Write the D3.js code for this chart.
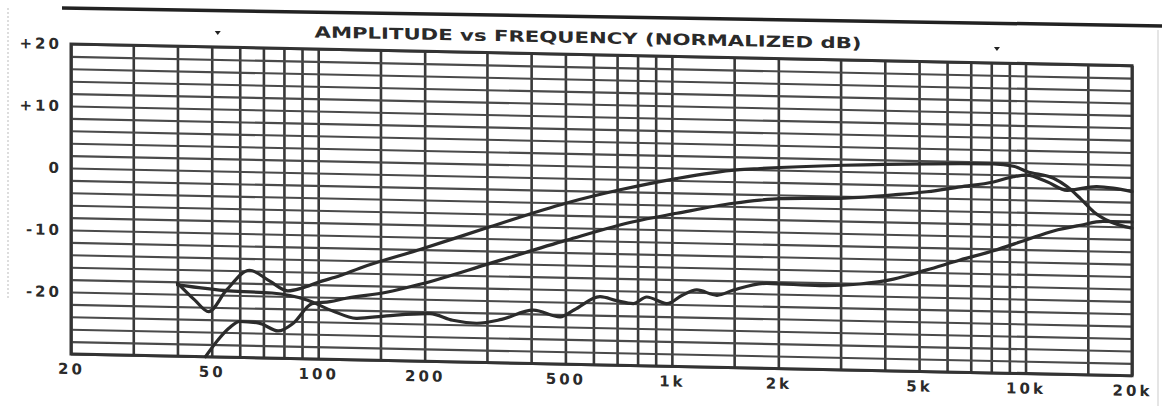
<!DOCTYPE html>
<html>
<head>
<meta charset="utf-8">
<script src="https://cdn.jsdelivr.net/npm/d3@7"></script>
<style>
  html, body { margin: 0; padding: 0; background: #fff; }
  svg { display: block; }
</style>
</head>
<body>
<svg id="chart" width="1162" height="406"></svg>
<script>
// curves (Hz / dB)
var freqA = [40, 44.8, 49, 55, 64, 73, 82, 90, 100, 115, 131, 194, 306, 504, 714, 1030, 1526, 1776, 3056, 5262, 8116, 9240, 10080, 12000, 13100, 14300, 15600, 17300, 20000];
var dbA   = [-18.2, -20.9, -22.7, -19.2, -15.9, -17.6, -19.1, -18.6, -17.6, -16.5, -15.2, -12.0, -8.1, -4.0, -1.7, 0.3, 1.9, 2.2, 3.0, 3.5, 3.7, 3.4, 2.6, 1.6, 0.3, -1.6, -3.7, -5.2, -6.2];

var freqB = [48, 52, 56, 60, 68, 77, 85, 96, 108, 120, 156, 194, 306, 504, 778, 1033, 1493, 1776, 2023, 3056, 4232, 5262, 6531, 8116, 9240, 10080, 11500, 13100, 15900, 17700, 20000];
var dbB   = [-30, -27.3, -25.3, -24.2, -24.4, -25.6, -24.3, -21.1, -20.7, -20.1, -19.0, -17.6, -14.0, -10.0, -6.8, -5.3, -3.5, -2.9, -2.6, -2.3, -1.6, -1.0, -0.1, 0.8, 1.7, 2.0, 1.0, -0.3, 0.4, 0.2, -0.3];

var freqC = [40, 56, 74, 93, 110, 128, 156, 207, 240, 280, 330, 406, 483, 530, 627, 700, 778, 849, 968, 1070, 1177, 1340, 1493, 1857, 2625, 3404, 4232, 5262, 6531, 8116, 10080, 12000, 14300, 16600, 20000];
var dbC   = [-18.5, -19.3, -19.5, -20.5, -22.2, -23.3, -22.8, -22.3, -23.3, -23.7, -23.0, -21.4, -22.4, -21.2, -19.0, -19.6, -20.0, -18.9, -19.9, -18.5, -17.6, -18.4, -17.5, -16.3, -16.5, -16.1, -15.2, -13.6, -11.9, -10.3, -8.4, -6.9, -5.9, -5.2, -5.2];

// grid + tick labels
var gridFreqs = [20, 30, 40, 50, 60, 70, 80, 90, 100, 150, 200, 300, 400, 500, 600, 700, 800, 900, 1000, 1500, 2000, 3000, 4000, 5000, 6000, 7000, 8000, 9000, 10000, 15000, 20000];
var gridDb = d3.range(-30, 21, 2);
var xTicks  = [20, 50, 100, 200, 500, 1000, 2000, 5000, 10000, 20000];
var xLabels = ["20", "50", "100", "200", "500", "1k", "2k", "5k", "10k", "20k"];
var yTicks  = [20, 10, 0, -10, -20];
var yLabels = ["+20", "+10", "0", "-10", "-20"];
var title = "AMPLITUDE vs FREQUENCY (NORMALIZED dB)";
var printMarks = [52, 8300];   // little arrow marks above the grid

( function () {

var pLeft = 71, pRight = 1132, pTop = 44, pBottom = 354;
var ink = "#2a2a2a";

var svg = d3.select("#chart");
svg.append("rect").attr("width", 1162).attr("height", 406).attr("fill", "#fff");

// paper edges of the scan
svg.append("line").attr("x1", 62).attr("y1", 8).attr("x2", 1162).attr("y2", 26)
  .attr("stroke", "#222").attr("stroke-width", 3.5);
svg.append("line").attr("x1", 8).attr("y1", 8).attr("x2", 8).attr("y2", 300)
  .attr("stroke", "#bbb").attr("stroke-width", 1).attr("stroke-dasharray", "2,2");
svg.append("line").attr("x1", 1158).attr("y1", 30).attr("x2", 1158).attr("y2", 406)
  .attr("stroke", "#ddd").attr("stroke-width", 1.5);

// the scan is a bit tilted: skew everything down to the right
var g = svg.append("g").attr("transform", "matrix(1,0.0205,0,1,0," + (-0.0205 * pLeft) + ")");

var x = d3.scaleLog().domain([20, 20000]).range([pLeft, pRight]);
var y = d3.scaleLinear().domain([-30, 20]).range([pBottom, pTop]);

// vertical grid
var vg = g.append("g").attr("transform", "translate(0," + pBottom + ")")
  .call(d3.axisBottom(x).tickValues(gridFreqs).tickSize(-(pBottom - pTop)).tickFormat(""));
vg.select(".domain").remove();
vg.selectAll(".tick line").attr("stroke", "#383838").attr("stroke-width", 2.6);

// horizontal grid
var hg = g.append("g").attr("transform", "translate(" + pLeft + ",0)")
  .call(d3.axisLeft(y).tickValues(gridDb).tickSize(-(pRight - pLeft)).tickFormat(""));
hg.select(".domain").remove();
hg.selectAll(".tick line").attr("stroke", "#4a4a4a").attr("stroke-width", 2.1);

// frame
g.append("rect").attr("x", pLeft).attr("y", pTop).attr("width", pRight - pLeft).attr("height", pBottom - pTop)
  .attr("fill", "none").attr("stroke", "#333").attr("stroke-width", 3);

// tick labels
var ya = g.append("g").attr("transform", "translate(" + 66 + ",0)")
  .call(d3.axisLeft(y).tickValues(yTicks).tickSize(0).tickPadding(4).tickFormat(function (d, i) { return yLabels[i]; }));
ya.select(".domain").remove();
ya.selectAll("text").attr("font-family", "DejaVu Sans").attr("font-weight", "bold")
  .attr("font-size", 15).attr("letter-spacing", 3).attr("fill", ink);

var xa = g.append("g").attr("transform", "translate(0," + pBottom + ")")
  .call(d3.axisBottom(x).tickValues(xTicks).tickSize(0).tickPadding(9.5).tickFormat(function (d, i) { return xLabels[i]; }));
xa.select(".domain").remove();
xa.selectAll("text").attr("font-family", "DejaVu Sans").attr("font-weight", "bold")
  .attr("font-size", 15).attr("letter-spacing", 3).attr("fill", ink);

// title
g.append("text").attr("x", 588).attr("y", 27).attr("dy", "0.35em").attr("text-anchor", "middle")
  .attr("font-family", "DejaVu Sans").attr("font-weight", "bold").attr("font-size", 15.5)
  .attr("textLength", 547).attr("lengthAdjust", "spacingAndGlyphs")
  .attr("fill", ink).text(title);

g.selectAll(".pmark").data(printMarks).enter().append("path").attr("class", "pmark")
  .attr("d", function (d) { var px = x(d); return "M" + (px - 3) + ",28L" + (px + 3) + ",28L" + px + ",32Z"; })
  .attr("fill", "#222");

// response curves
var line = d3.line().x(function (d) { return x(d[0]); }).y(function (d) { return y(d[1]); })
  .curve(d3.curveMonotoneX);
var series = [d3.zip(freqA, dbA), d3.zip(freqB, dbB), d3.zip(freqC, dbC)];
g.selectAll(".curve").data(series).enter().append("path").attr("class", "curve")
  .attr("d", line).attr("fill", "none").attr("stroke", "#2b2b2b")
  .attr("stroke-width", 3.2).attr("stroke-linejoin", "round").attr("stroke-linecap", "round");

} )();
</script>
</body>
</html>
